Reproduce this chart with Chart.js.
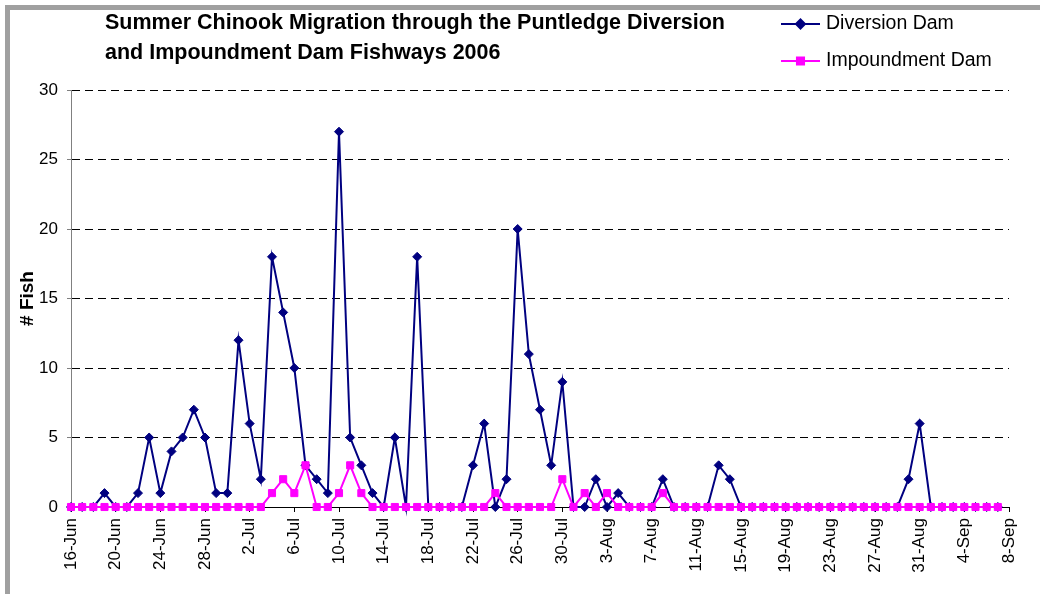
<!DOCTYPE html>
<html>
<head>
<meta charset="utf-8">
<script src="https://cdn.jsdelivr.net/npm/chart.js@4/dist/chart.umd.min.js"></script>
<style>
  html, body { margin: 0; padding: 0; background: #fff; }
  #wrap { position: relative; width: 1040px; height: 594px; overflow: hidden; }
  #frame {
    position: absolute; left: 5px; top: 5px; width: 1100px; height: 700px;
    border-top: 5px solid #a0a0a0; border-left: 5px solid #a0a0a0;
    pointer-events: none;
  }
  canvas { position: absolute; left: 0; top: 0; }
</style>
</head>
<body>
<div id="wrap">
  <canvas id="chart" width="1040" height="594"></canvas>
  <div id="frame"></div>
</div>
<script>
// Daily categories, 16 June to 8 September 2006
const days = [
  '16-Jun','17-Jun','18-Jun','19-Jun','20-Jun','21-Jun','22-Jun','23-Jun','24-Jun','25-Jun',
  '26-Jun','27-Jun','28-Jun','29-Jun','30-Jun',
  '1-Jul','2-Jul','3-Jul','4-Jul','5-Jul','6-Jul','7-Jul','8-Jul','9-Jul','10-Jul',
  '11-Jul','12-Jul','13-Jul','14-Jul','15-Jul','16-Jul','17-Jul','18-Jul','19-Jul','20-Jul',
  '21-Jul','22-Jul','23-Jul','24-Jul','25-Jul','26-Jul','27-Jul','28-Jul','29-Jul','30-Jul','31-Jul',
  '1-Aug','2-Aug','3-Aug','4-Aug','5-Aug','6-Aug','7-Aug','8-Aug','9-Aug','10-Aug',
  '11-Aug','12-Aug','13-Aug','14-Aug','15-Aug','16-Aug','17-Aug','18-Aug','19-Aug','20-Aug',
  '21-Aug','22-Aug','23-Aug','24-Aug','25-Aug','26-Aug','27-Aug','28-Aug','29-Aug','30-Aug','31-Aug',
  '1-Sep','2-Sep','3-Sep','4-Sep','5-Sep','6-Sep','7-Sep','8-Sep'
];

// Daily fish counts (16-Jun .. 7-Sep)
const diversionDam = [
  0,0,0,1,0,0,1,5,1,4,5,7,5,1,1,
  12,6,2,18,14,10,3,2,1,27,5,3,1,0,5,0,18,0,0,0,0,3,6,0,2,20,11,7,3,9,0,
  0,2,0,1,0,0,0,2,0,0,0,0,3,2,0,0,0,0,0,0,0,0,0,0,0,0,0,0,0,2,6,
  0,0,0,0,0,0,0
];
const impoundmentDam = [
  0,0,0,0,0,0,0,0,0,0,0,0,0,0,0,
  0,0,0,1,2,1,3,0,0,1,3,1,0,0,0,0,0,0,0,0,0,0,0,1,0,0,0,0,0,2,0,
  1,0,1,0,0,0,0,1,0,0,0,0,0,0,0,0,0,0,0,0,0,0,0,0,0,0,0,0,0,0,0,
  0,0,0,0,0,0,0
];

const titleLines = [
  'Summer Chinook Migration through the Puntledge Diversion',
  'and Impoundment Dam Fishways 2006'
];
const yTitle = '# Fish';
const FONT = '"Liberation Sans", Arial, Helvetica, sans-serif';

// Title and legend drawn in the page's top band
const headerPlugin = {
  id: 'header',
  afterDraw(chart) {
    const ctx = chart.ctx;
    ctx.save();
    ctx.fillStyle = '#000';
    ctx.font = 'bold 21.5px ' + FONT;
    ctx.textAlign = 'left';
    ctx.textBaseline = 'middle';
    ctx.fillText(titleLines[0], 105, 23);
    ctx.fillText(titleLines[1], 105, 53);

    const rows = [24, 61];
    chart.data.datasets.forEach((ds, i) => {
      const y = rows[i];
      ctx.strokeStyle = ds.borderColor;
      ctx.lineWidth = ds.borderWidth;
      ctx.beginPath();
      ctx.moveTo(781, y);
      ctx.lineTo(820, y);
      ctx.stroke();
      Chart.helpers.drawPoint(ctx, {
        pointStyle: ds.pointStyle,
        radius: ds.pointRadius,
        borderWidth: 1,
        rotation: 0
      }, 800.5, y);
      ctx.fillStyle = ds.backgroundColor;
      ctx.fill();
      ctx.fillStyle = '#000';
      ctx.font = '19.5px ' + FONT;
      ctx.textAlign = 'left';
      ctx.textBaseline = 'middle';
      ctx.fillText(ds.label, 826, y);
    });
    ctx.restore();
  }
};

new Chart(document.getElementById('chart'), {
  type: 'line',
  data: {
    labels: days,
    datasets: [
      {
        label: 'Diversion Dam',
        data: diversionDam,
        borderColor: '#000080',
        backgroundColor: '#000080',
        borderWidth: 2,
        pointStyle: 'rectRot',
        pointRadius: 4.5,
        pointBorderWidth: 1,
        tension: 0,
        clip: false,
        order: 1
      },
      {
        label: 'Impoundment Dam',
        data: impoundmentDam,
        borderColor: '#FF00FF',
        backgroundColor: '#FF00FF',
        borderWidth: 2,
        pointStyle: 'rect',
        pointRadius: 5,
        pointBorderWidth: 1,
        tension: 0,
        clip: false,
        order: 0
      }
    ]
  },
  options: {
    responsive: false,
    animation: false,
    devicePixelRatio: 1,
    layout: { padding: { top: 90, right: 31, bottom: 0, left: 0 } },
    plugins: {
      legend: { display: false },
      title: { display: false },
      tooltip: { enabled: false }
    },
    scales: {
      x: {
        type: 'category',
        offset: false,
        grid: {
          display: true,
          drawOnChartArea: false,
          drawTicks: true,
          tickLength: 5,
          tickWidth: 1,
          tickColor: (c) => (c.index % 4 === 0 ? '#000' : 'rgba(0,0,0,0)')
        },
        border: { display: true, color: '#000', width: 1 },
        ticks: {
          autoSkip: false,
          minRotation: 90,
          maxRotation: 90,
          padding: 6,
          color: '#000',
          font: { family: FONT, size: 17 },
          callback: function (v, i) { return i % 4 === 0 ? this.getLabelForValue(v) : ''; }
        },
        afterFit: (s) => { s.height = 87; }
      },
      y: {
        min: 0,
        max: 30,
        grid: {
          color: '#000',
          lineWidth: 1,
          drawTicks: true,
          tickLength: 4,
          tickColor: '#808080',
          tickBorderDash: []
        },
        border: { display: true, color: '#808080', width: 1, dash: [8, 5] },
        ticks: {
          stepSize: 5,
          padding: 9,
          color: '#000',
          font: { family: FONT, size: 17 }
        },
        title: {
          display: true,
          text: yTitle,
          color: '#000',
          font: { family: FONT, size: 19, weight: 'bold' },
          padding: { top: 16, bottom: 0 }
        },
        afterFit: (s) => { s.width = 71; }
      }
    }
  },
  plugins: [headerPlugin]
});
</script>
</body>
</html>
